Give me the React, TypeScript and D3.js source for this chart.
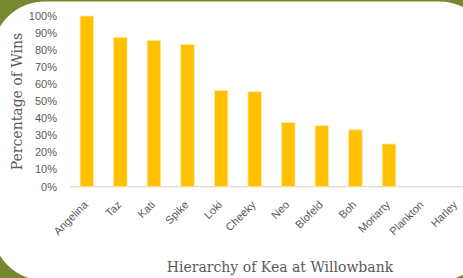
import * as d3 from "d3";
import { useEffect, useRef } from "react";

const kea = ["Angelina", "Taz", "Kati", "Spike", "Loki", "Cheeky", "Neo", "Blofeld", "Boh", "Moriarty", "Plankton", "Harley"];
const winShare = [1.0, 0.875, 0.857, 0.833, 0.563, 0.556, 0.375, 0.357, 0.333, 0.25, 0, 0];
const yTicks = [0, 0.1, 0.2, 0.3, 0.4, 0.5, 0.6, 0.7, 0.8, 0.9, 1.0];

export default function App(): JSX.Element {
  const svgRef = useRef<SVGSVGElement>(null);

  useEffect(() => {
    if (!svgRef.current) return;

    const width = 463;
    const height = 278;
    const margin = { top: 16, right: -10, bottom: 91.3, left: 70 };

    const svg = d3.select(svgRef.current);
    svg.selectAll("*").remove();
    svg.attr("width", width).attr("height", height);

    // olive backdrop with the white rounded card on top
    svg.append("rect").attr("width", width).attr("height", height).attr("fill", "#76892f");
    svg
      .append("rect")
      .attr("x", -7.5)
      .attr("y", 1.5)
      .attr("width", 499)
      .attr("height", 279)
      .attr("rx", 52)
      .attr("fill", "#ffffff");

    const xScale = d3
      .scaleBand()
      .domain(kea)
      .range([margin.left, width - margin.right])
      .paddingInner(0.6)
      .paddingOuter(0.3);

    const yScale = d3
      .scaleLinear()
      .domain([0, 1])
      .range([height - margin.bottom, margin.top]);

    const baseY = yScale(0);

    svg
      .append("line")
      .attr("x1", margin.left)
      .attr("x2", width)
      .attr("y1", baseY)
      .attr("y2", baseY)
      .attr("stroke", "#d9d9d9")
      .attr("stroke-width", 1.2);

    svg
      .append("g")
      .selectAll("text")
      .data(yTicks)
      .join("text")
      .attr("x", 57)
      .attr("y", (d) => yScale(d))
      .attr("dy", "0.35em")
      .attr("text-anchor", "end")
      .style("font-family", "'Liberation Sans', Arial, sans-serif")
      .style("font-size", "11px")
      .style("fill", "#595959")
      .text((d) => d3.format(".0%")(d));

    svg
      .append("g")
      .selectAll("rect")
      .data(kea.map((k, i) => ({ name: k, value: winShare[i] })))
      .join("rect")
      .attr("x", (d) => xScale(d.name)!)
      .attr("y", (d) => yScale(d.value))
      .attr("width", xScale.bandwidth())
      .attr("height", (d) => baseY - yScale(d.value))
      .attr("fill", "#ffc000")
      .attr("stroke", (d) => (d.value > 0 ? "#ffe699" : "none"))
      .attr("stroke-width", 0.8);

    svg
      .append("g")
      .selectAll("text")
      .data(kea)
      .join("text")
      .attr(
        "transform",
        (d) => `translate(${xScale(d)! + xScale.bandwidth() / 2 - 1},${baseY + 16}) rotate(-45)`
      )
      .attr("text-anchor", "end")
      .attr("dy", "0.35em")
      .style("font-family", "'Liberation Sans', Arial, sans-serif")
      .style("font-size", "11px")
      .style("fill", "#595959")
      .text((d) => d);

    svg
      .append("text")
      .attr("transform", `translate(22,${(16 + 187) / 2}) rotate(-90)`)
      .attr("text-anchor", "middle")
      .style("font-family", "'DejaVu Serif', serif")
      .style("font-size", "14px")
      .style("fill", "#595959")
      .text("Percentage of Wins");

    svg
      .append("text")
      .attr("x", 280)
      .attr("y", 272)
      .attr("text-anchor", "middle")
      .style("font-family", "'DejaVu Serif', serif")
      .style("font-size", "14px")
      .style("fill", "#595959")
      .text("Hierarchy of Kea at Willowbank");
  }, []);

  return (
    <div style={{ position: "absolute", left: 0, top: 0, width: 463, height: 278, overflow: "hidden" }}>
      <svg ref={svgRef} style={{ display: "block" }} />
    </div>
  );
}
